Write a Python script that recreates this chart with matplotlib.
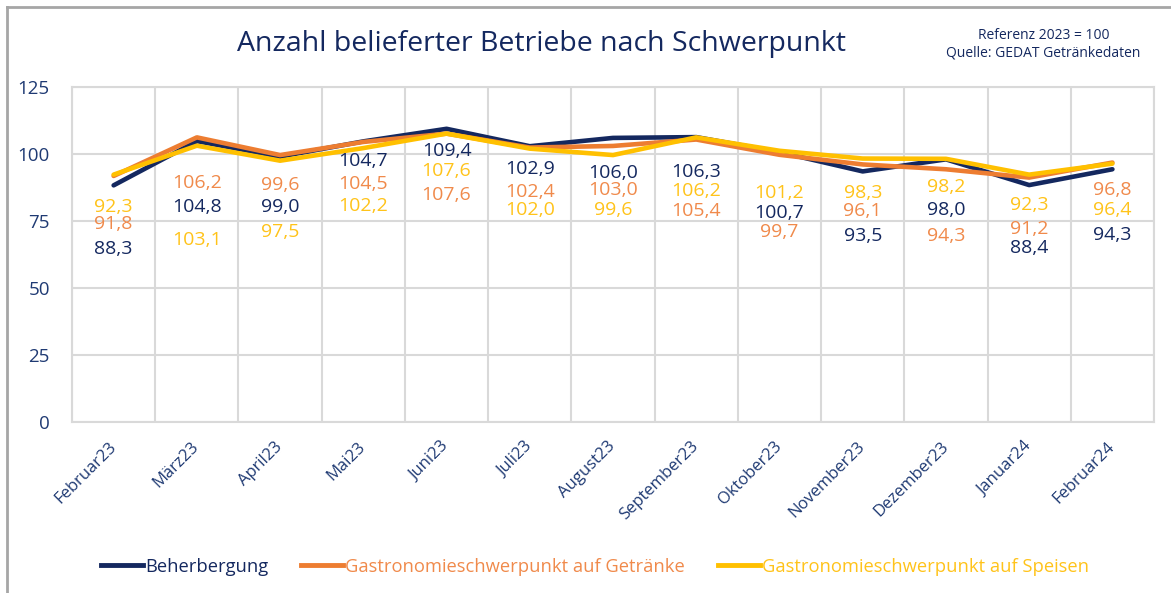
import matplotlib.pyplot as plt
import numpy as np
from matplotlib.lines import Line2D

# Index values (Referenz 2023 = 100)
months = ['Februar23', 'März23', 'April23', 'Mai23', 'Juni23', 'Juli23', 'August23',
          'September23', 'Oktober23', 'November23', 'Dezember23', 'Januar24', 'Februar24']
beherbergung = [88.3, 104.8, 99.0, 104.7, 109.4, 102.9, 106.0, 106.3, 100.7, 93.5, 98.0, 88.4, 94.3]
getraenke = [91.8, 106.2, 99.6, 104.5, 107.6, 102.4, 103.0, 105.4, 99.7, 96.1, 94.3, 91.2, 96.8]
speisen = [92.3, 103.1, 97.5, 102.2, 107.6, 102.0, 99.6, 106.2, 101.2, 98.3, 98.2, 92.3, 96.4]

# where the data labels sit (in y units), as placed in the original
lab_y_beh = [64.6, 80.2, 80.2, 97.4, 101.1, 94.4, 92.9, 93.3, 78.0, 69.4, 79.1, 64.9, 69.8]
lab_y_get = [73.9, 89.2, 88.4, 88.8, 84.7, 85.8, 86.6, 78.7, 70.9, 78.7, 69.4, 72.0, 86.6]
lab_y_spe = [80.2, 67.9, 70.9, 80.6, 93.7, 79.1, 79.1, 86.2, 85.4, 85.4, 87.7, 81.0, 79.1]

navy = '#14285F'
orange = '#ED7D31'
gold = '#FFC000'
grid_c = '#D9D9D9'
text_c = '#1F3A73'

plt.rcParams['font.family'] = ['Open Sans', 'DejaVu Sans']

fig = plt.figure(figsize=(11.71, 5.93), dpi=100)
ax = fig.add_axes([0.0615, 0.2884, 0.924, 0.5649])

x = np.arange(len(months))
ax.plot(x, beherbergung, color=navy, lw=3.3, solid_capstyle='round', zorder=3)
ax.plot(x, getraenke, color=orange, lw=3.3, solid_capstyle='round', zorder=4)
ax.plot(x, speisen, color=gold, lw=3.3, solid_capstyle='round', zorder=5)

def fmt(v):
    return f'{v:.1f}'.replace('.', ',')

for vals, ys, col in [(beherbergung, lab_y_beh, navy),
                      (getraenke, lab_y_get, '#F08A4B'),
                      (speisen, lab_y_spe, '#FFC31A')]:
    for i, (v, yy) in enumerate(zip(vals, ys)):
        ax.text(i, yy, fmt(v), color=col, fontsize=14, ha='center', va='center', zorder=6)

ax.set_xlim(-0.5, len(months) - 0.5)
ax.set_ylim(0, 125)
ax.set_yticks([0, 25, 50, 75, 100, 125])
ax.set_xticks(x)
ax.set_xticklabels(months, rotation=45, ha='right', va='center', rotation_mode='anchor')
ax.set_xticks(np.arange(-0.5, len(months)), minor=True)
ax.tick_params(axis='x', which='major', length=0, pad=16, labelsize=12, labelcolor=text_c)
ax.tick_params(axis='x', which='minor', length=0)
ax.tick_params(axis='y', length=0, pad=16, labelsize=13.5, labelcolor=text_c)
ax.grid(True, axis='y', color=grid_c, lw=1.5)
ax.grid(True, axis='x', which='minor', color=grid_c, lw=1.5)
ax.set_axisbelow(True)
for s in ax.spines.values():
    s.set_color(grid_c)
    s.set_linewidth(1.5)

fig.text(0.462, 0.925, 'Anzahl belieferter Betriebe nach Schwerpunkt', fontsize=20.5,
         color=navy, ha='center', va='center')
fig.text(0.891, 0.925, 'Referenz 2023 = 100\nQuelle: GEDAT Getränkedaten', fontsize=10,
         color=navy, ha='center', va='center', linespacing=1.25)

handles = [Line2D([], [], color=navy, lw=3.5),
           Line2D([], [], color=orange, lw=3.5),
           Line2D([], [], color=gold, lw=3.5)]
labels = ['Beherbergung', 'Gastronomieschwerpunkt auf Getränke', 'Gastronomieschwerpunkt auf Speisen']
fig.legend(handles, labels, loc='center', bbox_to_anchor=(0.508, 0.044), ncol=3, frameon=False,
           fontsize=13.2, handlelength=2.3, handletextpad=0.1, columnspacing=1.8,
           labelcolor=[navy, '#F08A4B', '#FFC31A'])

# grey frame at top and left edge
fig.add_artist(Line2D([7 / 1171, 1], [1 - 7 / 593, 1 - 7 / 593], color='#A6A6A6', lw=2))
fig.add_artist(Line2D([7 / 1171, 7 / 1171], [0, 1 - 7 / 593], color='#A6A6A6', lw=2))

fig.savefig('out.png', dpi=100)
